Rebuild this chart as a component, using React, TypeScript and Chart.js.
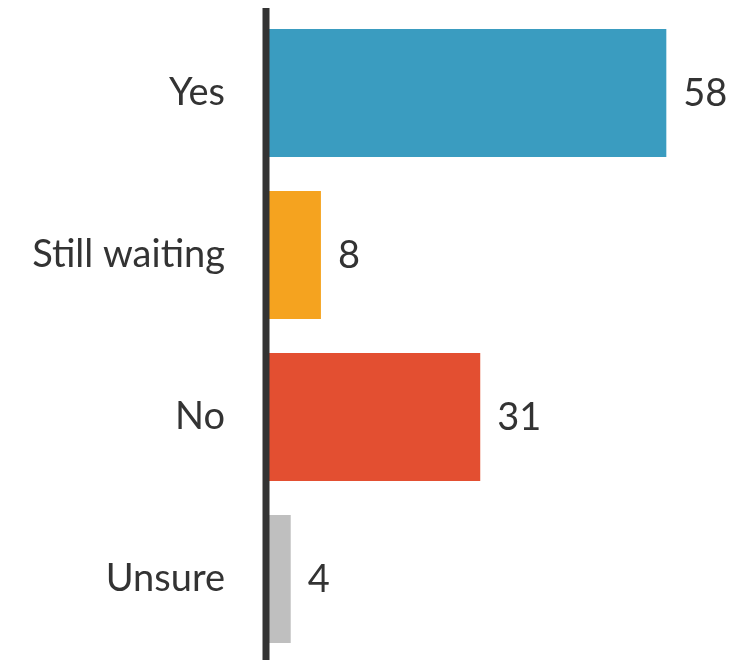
import React, { useEffect, useRef } from "react";
import { Chart, registerables } from "chart.js";

Chart.register(...registerables);

const categories = ["Yes", "Still waiting", "No", "Unsure"];
const values = [58.3, 8.0, 31.2, 3.6];
const valueLabels = ["58", "8", "31", "4"];
const barColors = ["#3A9CC0", "#F5A31F", "#E34F31", "#BFBFBF"];

const FONT = "Lato, 'Open Sans', sans-serif";
const FONT_SIZE = 38;
const TEXT = "#333333";

const overlayPlugin = {
  id: "overlay",
  afterDatasetsDraw(chart: any) {
    const { ctx, chartArea } = chart;
    const meta = chart.getDatasetMeta(0);
    ctx.save();
    // value labels
    ctx.fillStyle = TEXT;
    ctx.font = `${FONT_SIZE}px ${FONT}`;
    ctx.textAlign = "left";
    ctx.textBaseline = "middle";
    meta.data.forEach((bar: any, i: number) => {
      ctx.fillText(valueLabels[i], bar.x + 17, bar.y + 1);
    });
    // axis line
    ctx.strokeStyle = "#333333";
    ctx.lineWidth = 7;
    ctx.beginPath();
    ctx.moveTo(chartArea.left, chartArea.top - 4);
    ctx.lineTo(chartArea.left, chartArea.bottom);
    ctx.stroke();
    ctx.restore();
  },
};

export default function App() {
  const ref = useRef<HTMLCanvasElement | null>(null);
  useEffect(() => {
    if (!ref.current) return;
    const chart = new Chart(ref.current, {
      type: "bar",
      data: {
        labels: categories,
        datasets: [
          {
            data: values,
            backgroundColor: barColors,
            borderWidth: 0,
            barPercentage: 0.79,
            categoryPercentage: 1,
          },
        ],
      },
      options: {
        indexAxis: "y",
        animation: false,
        responsive: false,
        maintainAspectRatio: false,
        layout: { padding: { top: 12, bottom: 0, left: 0, right: 55 } },
        plugins: { legend: { display: false }, tooltip: { enabled: false } },
        scales: {
          x: { display: false, min: 0, max: 60 },
          y: {
            grid: { display: false, drawTicks: false },
            border: { display: false },
            ticks: {
              color: TEXT,
              font: { family: FONT, size: FONT_SIZE },
              padding: 41,
            },
            afterFit: (s: any) => {
              s.width = 266;
              s.paddingTop = 0;
              s.paddingBottom = 0;
            },
          },
        },
      },
      plugins: [overlayPlugin],
    });
    return () => chart.destroy();
  }, []);
  return (
    <div style={{ position: "fixed", left: 0, top: 0, width: 733, height: 660, background: "#fff" }}>
      <canvas ref={ref} width={733} height={660} style={{ display: "block" }} />
    </div>
  );
}
